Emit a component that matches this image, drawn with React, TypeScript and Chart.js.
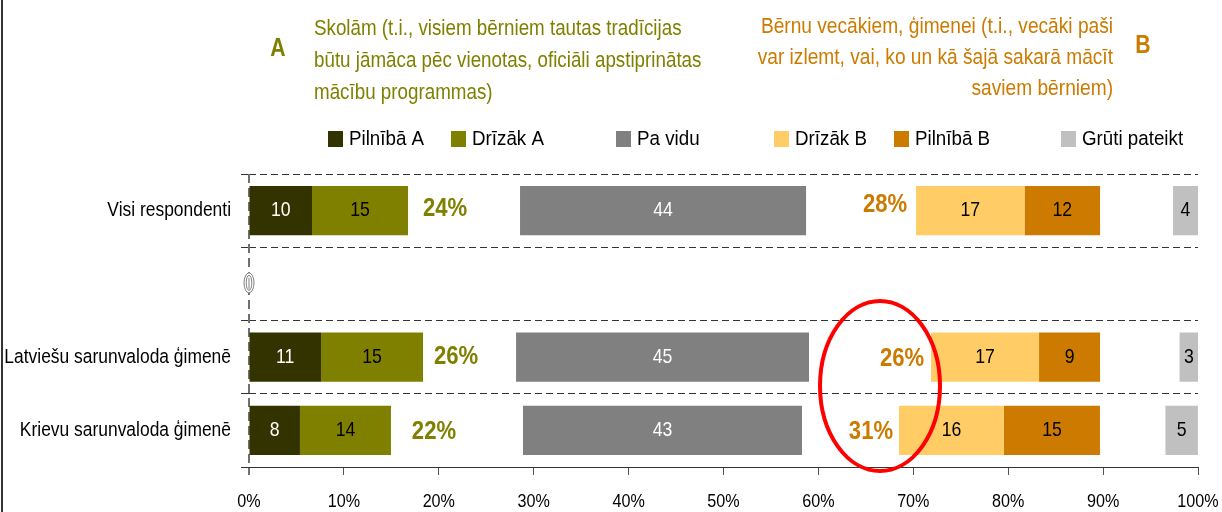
import React, { useEffect, useRef } from "react";
import { Chart, registerables } from "chart.js";

Chart.register(...registerables);

const categories = ["Visi respondenti", "", "Latviešu sarunvaloda ģimenē", "Krievu sarunvaloda ģimenē"];

// Bar lengths as read against the 0–100% axis
const pilnibaA = [6.64, null, 7.59, 5.37];
const drizakA = [10.12, null, 10.75, 9.59];
const gapA = [11.8, null, 9.8, 13.91];
const paVidu = [30.14, null, 30.87, 29.4];
const gapB = [11.59, null, 12.86, 10.22];
const drizakB = [11.43, null, 11.38, 11.06];
const pilnibaB = [7.96, null, 6.43, 10.12];
const gapC = [7.69, null, 8.38, 6.9];
const gruti = [2.63, null, 1.95, 3.42];

// Printed labels
const pilnibaALabels = ["10", "", "11", "8"];
const drizakALabels = ["15", "", "15", "14"];
const paViduLabels = ["44", "", "45", "43"];
const drizakBLabels = ["17", "", "17", "16"];
const pilnibaBLabels = ["12", "", "9", "15"];
const grutiLabels = ["4", "", "3", "5"];
const sumA = ["24%", "", "26%", "22%"];
const sumB = ["28%", "", "26%", "31%"];

const headerA = [
  "Skolām (t.i., visiem bērniem tautas tradīcijas",
  "būtu jāmāca pēc vienotas, oficiāli apstiprinātas",
  "mācību programmas)",
];
const headerB = [
  "Bērnu vecākiem, ģimenei (t.i., vecāki paši",
  "var izlemt, vai, ko un kā šajā sakarā mācīt",
  "saviem bērniem)",
];

const OLIVE = "#808000";
const ORANGE = "#CC7A00";
const FONT = '"Liberation Sans", Arial, sans-serif';

// Legend placement: swatch x for each visible series
const legendX = [328, 451, 616, 774, 894, 1061];
// Offset of the sum labels from the neighbouring bar, per row
const sumAOffset = [37, 0, 33, 43];
const sumBOffset = [31, 0, 29, 28];
const sumBDy = [-6, 0, 2, 1];
const sumADy = [-2, 0, 0, 1];

// The reference's text is narrower than the font's natural width
let axisTextScale = 1;

function txt(
  ctx: CanvasRenderingContext2D,
  s: string,
  x: number,
  y: number,
  font: string,
  color: string,
  align: CanvasTextAlign = "left",
  sx = 1
) {
  ctx.save();
  ctx.translate(x, y);
  ctx.scale(sx, 1);
  ctx.font = font;
  ctx.fillStyle = color;
  ctx.textAlign = align;
  ctx.textBaseline = "middle";
  ctx.fillText(s, 0, 0);
  ctx.restore();
}

const overlay = {
  id: "overlay",
  install(chart: any) {
    const ctx = chart.ctx;
    const orig = ctx.fillText.bind(ctx);
    ctx.fillText = (s: string, x: number, y: number) => {
      if (axisTextScale === 1) {
        orig(s, x, y);
        return;
      }
      ctx.save();
      ctx.translate(x, y);
      ctx.scale(axisTextScale, 1);
      orig(s, 0, 0);
      ctx.restore();
    };
  },
  beforeDraw() {
    axisTextScale = 0.85;
  },
  beforeDatasetsDraw(chart: any) {
    const { ctx, chartArea } = chart;
    const x0 = chart.scales.x.getPixelForValue(0);
    ctx.save();
    ctx.strokeStyle = "#707070";
    ctx.lineWidth = 2;
    ctx.setLineDash([9, 5]);
    ctx.beginPath();
    ctx.moveTo(x0, chartArea.top);
    ctx.lineTo(x0, chartArea.bottom + 8);
    ctx.stroke();
    ctx.restore();
  },
  afterDatasetsDraw(chart: any) {
    axisTextScale = 1;
    const { ctx } = chart;
    const xs = chart.scales.x;

    // frame line
    ctx.save();
    ctx.strokeStyle = "#333333";
    ctx.lineWidth = 2;
    ctx.beginPath();
    ctx.moveTo(2, 0);
    ctx.lineTo(2, 512);
    ctx.stroke();
    ctx.restore();

    // value labels
    const labelled: [number, string[], string][] = [
      [0, pilnibaALabels, "#ffffff"],
      [1, drizakALabels, "#000000"],
      [3, paViduLabels, "#ffffff"],
      [5, drizakBLabels, "#000000"],
      [6, pilnibaBLabels, "#000000"],
      [8, grutiLabels, "#000000"],
    ];
    labelled.forEach(([ds, labels, color]) => {
      const meta = chart.getDatasetMeta(ds);
      labels.forEach((t, i) => {
        if (!t) return;
        const el = meta.data[i];
        const cx = (el.x + el.base) / 2;
        txt(ctx, t, cx, el.y, `21px ${FONT}`, color, "center", 0.84);
      });
    });

    // sums
    const a2 = chart.getDatasetMeta(1);
    const b1 = chart.getDatasetMeta(5);
    categories.forEach((_, i) => {
      if (sumA[i]) {
        txt(ctx, sumA[i], a2.data[i].x + sumAOffset[i], a2.data[i].y + sumADy[i], `bold 26px ${FONT}`, OLIVE, "center", 0.85);
      }
      if (sumB[i]) {
        txt(ctx, sumB[i], b1.data[i].base - sumBOffset[i], b1.data[i].y + sumBDy[i], `bold 26px ${FONT}`, ORANGE, "center", 0.85);
      }
    });

    // headers
    headerA.forEach((t, i) => txt(ctx, t, 314, 29 + i * 32, `22px ${FONT}`, OLIVE, "left", 0.854));
    headerB.forEach((t, i) => txt(ctx, t, 1113, 27 + i * 31, `22px ${FONT}`, ORANGE, "right", 0.87));
    txt(ctx, "A", 278, 49, `bold 25px ${FONT}`, OLIVE, "center", 0.85);
    txt(ctx, "B", 1143, 46, `bold 25px ${FONT}`, ORANGE, "center", 0.85);

    // legend
    const visible = chart.data.datasets.filter((d: any) => !d.spacer);
    visible.forEach((d: any, i: number) => {
      ctx.fillStyle = d.backgroundColor;
      ctx.fillRect(legendX[i], 131, 15, 16);
      txt(ctx, d.label, legendX[i] + 21, 139, `20.5px ${FONT}`, "#000000", "left", 0.915);
    });

    // paper clip marker on the empty category
    const cy = chart.scales.y.getPixelForValue(1) - 1;
    const cx = xs.getPixelForValue(0);
    ctx.save();
    ctx.fillStyle = "#ffffff";
    ctx.fillRect(cx - 5, cy - 10, 10, 20);
    ctx.strokeStyle = "#808080";
    ctx.lineWidth = 1;
    [
      [5, 10],
      [2.8, 7.5],
    ].forEach(([rx, ry]) => {
      ctx.beginPath();
      ctx.ellipse(cx, cy, rx, ry, 0, 0, Math.PI * 2);
      ctx.stroke();
    });
    ctx.beginPath();
    ctx.moveTo(cx, cy - 5);
    ctx.lineTo(cx, cy + 6);
    ctx.stroke();
    ctx.restore();

    // red highlight ellipse
    ctx.save();
    ctx.strokeStyle = "#FF0000";
    ctx.lineWidth = 4;
    ctx.beginPath();
    ctx.ellipse(880, 386, 60, 85, 0, 0, Math.PI * 2);
    ctx.stroke();
    ctx.restore();
  },
};

export default function App() {
  const ref = useRef<HTMLCanvasElement | null>(null);

  useEffect(() => {
    document.body.style.margin = "0";
    const mk = (label: string, data: any[], color: string, spacer = false) => ({
      label,
      data,
      backgroundColor: color,
      spacer,
      borderWidth: 0,
      categoryPercentage: 0.82,
      barPercentage: 0.82,
    });
    const chart = new Chart(ref.current as HTMLCanvasElement, {
      type: "bar",
      data: {
        labels: categories,
        datasets: [
          mk("Pilnībā A", pilnibaA, "#333300"),
          mk("Drīzāk A", drizakA, OLIVE),
          mk("", gapA, "rgba(0,0,0,0)", true),
          mk("Pa vidu", paVidu, "#808080"),
          mk("", gapB, "rgba(0,0,0,0)", true),
          mk("Drīzāk B", drizakB, "#FFCC66"),
          mk("Pilnībā B", pilnibaB, ORANGE),
          mk("", gapC, "rgba(0,0,0,0)", true),
          mk("Grūti pateikt", gruti, "#C0C0C0"),
        ] as any,
      },
      plugins: [overlay],
      options: {
        indexAxis: "y",
        responsive: false,
        animation: false,
        layout: { padding: { top: 174, right: 24, left: 0, bottom: 0 } },
        plugins: { legend: { display: false }, tooltip: { enabled: false } },
        scales: {
          x: {
            stacked: true,
            min: 0,
            max: 100,
            afterFit(s: any) {
              s.height = 45;
              s.paddingRight = 0;
              s.paddingLeft = 0;
            },
            border: { color: "#333333", width: 1 },
            grid: { drawOnChartArea: false, drawTicks: true, tickLength: 8, color: "#555555" },
            ticks: {
              stepSize: 10,
              maxRotation: 0,
              autoSkip: false,
              padding: 15,
              color: "#000000",
              font: { family: FONT, size: 19 },
              callback: (v: any) => `${v}%`,
            },
          },
          y: {
            stacked: true,
            afterFit(s: any) {
              s.width = 249;
            },
            border: { display: false, dash: [7, 4] },
            grid: {
              color: "#333333",
              lineWidth: 1,
              tickLength: 8,
              tickBorderDash: [],
            } as any,
            ticks: {
              padding: 10,
              autoSkip: false,
              color: "#000000",
              font: { family: FONT, size: 20.5 },
            },
          },
        },
      } as any,
    });
    return () => chart.destroy();
  }, []);

  return (
    <div style={{ position: "absolute", left: 0, top: 0, width: 1222, height: 512, background: "#fff" }}>
      <canvas ref={ref} width={1222} height={512} style={{ display: "block" }} />
    </div>
  );
}
